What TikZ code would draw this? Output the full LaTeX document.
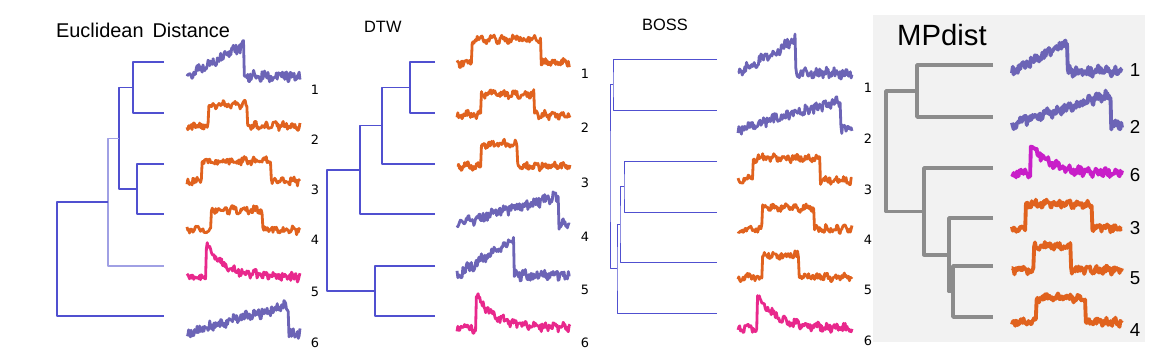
\documentclass[tikz,border=0pt]{standalone}
\usepackage{fontspec}
\setmainfont{Liberation Sans}
\newfontfamily\djv{DejaVu Sans}
\definecolor{tsblue}{RGB}{108,100,182}
\definecolor{tsorange}{RGB}{224,98,30}
\definecolor{tspink}{RGB}{232,40,140}
\definecolor{tsmag}{RGB}{200,30,200}
\definecolor{dgblue}{RGB}{80,80,208}
\definecolor{dglight}{RGB}{160,160,228}
\definecolor{dggrey}{RGB}{140,140,140}
\definecolor{mpback}{RGB}{242,242,242}
% noisy series: [noise], colour, left x, width, baseline, shape in \x
\newcommand{\tsig}[6][3.6]{\draw[series,#2] plot[domain=0:1,samples=135] ({#3+#4*\x},{#5-(#6)+#1*rand+1.6*sin(2900*\x+\x*\x*900)});}

\begin{document}
\begin{tikzpicture}[x=0.03cm, y=-0.03cm, line join=round,
    dendro/.style={dgblue, line width=0.9pt},
    series/.style={line width=2.4pt},
    lab/.style={font=\djv\fontsize{11}{13}\selectfont},
    biglab/.style={font=\fontsize{16}{18}\selectfont},
    title/.style={anchor=base west}]
    \useasboundingbox (0,0) rectangle (1173,363);
    \pgfmathsetseed{11}
    \fill[mpback] (873,15) rectangle (1145,342);
    
    % Euclidean Distance
    \node[title, font=\fontsize{17}{20}\selectfont] (te) at (52,37) {Euclidean\hspace{0.45em}Distance};
    \foreach \i/\y in {1/62,2/113,3/164,4/214,5/266,6/316}
    {
        \coordinate (e\i) at (164,\y);
    }
    \coordinate (e12) at (133,87.5);
    \coordinate (e34) at (137,189);
    \coordinate (e1234) at (119,138.25);
    \coordinate (e5m) at (108,202);
    \coordinate (eroot) at (57,259);
    \draw[dendro] (e1) -| (e12) |- (e2);
    \draw[dendro] (e3) -| (e34) |- (e4);
    \draw[dendro] (e12) -| (e1234) |- (e34);
    \draw[dendro, dglight] (e1234) -| (e5m) |- (e5);
    \draw[dendro] (e5m) -| (eroot) |- (e6);
    \foreach \i/\y in {1/90,2/140,3/190,4/240,5/292,6/343}
    {
        \node[lab] (el\i) at (315,\y) {\i};
    }
    \tsig[4.8]{tsblue}{187}{113}{76}{30*(\x<0.5)*\x/0.5}
    \tsig[3.3]{tsorange}{187}{113}{126}{21*(\x>0.19)*(\x<0.53)}
    \tsig[3.3]{tsorange}{187}{113}{181}{20*(\x>0.13)*(\x<0.74)}
    \tsig[3.3]{tsorange}{187}{113}{230}{20*(\x>0.21)*(\x<0.67)}
    \tsig[3.8]{tspink}{187}{113}{277}{33*(\x>0.17)*exp(-6*(\x-0.17))}
    \tsig[4.8]{tsblue}{187}{113}{333}{28*(\x<0.9)*\x/0.9}
    
    % DTW
    \node[title, font=\fontsize{14}{16}\selectfont] (td) at (360,32) {DTW};
    \foreach \i/\y in {1/62,2/113,3/164,4/214,5/266,6/316}
    {
        \coordinate (d\i) at (435,\y);
    }
    \coordinate (d12) at (410,87.5);
    \coordinate (d123) at (382,125.75);
    \coordinate (d1234) at (360,170);
    \coordinate (d56) at (375,291);
    \coordinate (droot) at (327,230.5);
    \draw[dendro] (d1) -| (d12) |- (d2);
    \draw[dendro] (d12) -| (d123) |- (d3);
    \draw[dendro] (d123) -| (d1234) |- (d4);
    \draw[dendro] (d5) -| (d56) |- (d6);
    \draw[dendro] (d1234) -| (droot) |- (d56);
    \foreach \i/\y in {1/74,2/128,3/183,4/237,5/290,6/343}
    {
        \node[lab] (dl\i) at (585,\y) {\i};
    }
    \tsig[3.3]{tsorange}{457}{113}{63}{24*(\x>0.13)*(\x<0.74)}
    \tsig[3.3]{tsorange}{457}{113}{115}{21*(\x>0.21)*(\x<0.68)}
    \tsig[3.3]{tsorange}{457}{113}{166}{22*(\x>0.21)*(\x<0.53)}
    \tsig[4.8]{tsblue}{457}{113}{224}{28*(\x<0.9)*\x/0.9}
    \tsig[4.8]{tsblue}{457}{113}{275}{36*(\x<0.5)*\x/0.5}
    \tsig[3.8]{tspink}{457}{113}{328}{33*(\x>0.17)*exp(-6*(\x-0.17))}
    
    % BOSS
    \node[title, font=\fontsize{14}{16}\selectfont] (tb) at (638,31) {BOSS};
    \foreach \i/\y in {1/59,2/110,3/161,4/212,5/262,6/313}
    {
        \coordinate (b\i) at (717,\y);
    }
    \coordinate (b12) at (613,84.5);
    \coordinate (b34) at (624,186.5);
    \coordinate (b345) at (620,224.25);
    \coordinate (b3456) at (617,268.6);
    \coordinate (broot) at (610,176.5);
    \draw[dendro, line width=0.8pt] (b1) -| (b12) |- (b2);
    \draw[dendro, line width=0.8pt] (b3) -| (b34) |- (b4);
    \draw[dendro, line width=0.8pt] (b34) -| (b345) |- (b5);
    \draw[dendro, line width=0.8pt] (b345) -| (b3456) |- (b6);
    \draw[dendro, line width=0.8pt] (b12) -| (broot) |- (b3456);
    \foreach \i/\y in {1/88,2/139,3/190,4/240,5/290,6/341}
    {
        \node[lab] (bl\i) at (868,\y) {\i};
    }
    \tsig[4.8]{tsblue}{738}{114}{73}{33*(\x<0.5)*\x/0.5}
    \tsig[4.8]{tsblue}{738}{114}{129}{28*(\x<0.9)*\x/0.9}
    \tsig[3.3]{tsorange}{738}{114}{180}{22*(\x>0.13)*(\x<0.72)}
    \tsig[3.3]{tsorange}{738}{114}{229}{21*(\x>0.21)*(\x<0.67)}
    \tsig[3.3]{tsorange}{738}{114}{277}{22*(\x>0.21)*(\x<0.53)}
    \tsig[3.8]{tspink}{738}{114}{328}{33*(\x>0.17)*exp(-6*(\x-0.17))}
    
    % MPdist
    \node[title, font=\fontsize{25}{28}\selectfont] (tm) at (893,45) {MPdist};
    \foreach \i/\y in {1/65,2/117,3/168,4/218,5/266,6/317}
    {
        \coordinate (m\i) at (993,\y);
    }
    \coordinate (m12) at (917,91);
    \coordinate (m56) at (953,291.5);
    \coordinate (m456) at (949,254.75);
    \coordinate (m3456) at (924,211.4);
    \coordinate (mroot) at (886,151);
    \draw[dggrey, line width=3.2pt] (m1) -| (m12) |- (m2);
    \draw[dggrey, line width=3.2pt] (m5) -| (m56) |- (m6);
    \draw[dggrey, line width=3.2pt] (m4) -| (m456) |- (m56);
    \draw[dggrey, line width=3.2pt] (m3) -| (m3456) |- (m456);
    \draw[dggrey, line width=3.2pt] (m12) -| (mroot) |- (m3456);
    \foreach \i/\n/\y in {1/1/70,2/2/127,3/6/175,4/3/228,5/5/278,6/4/330}
    {
        \node[biglab] (ml\i) at (1135,\y) {\n};
    }
    \begin{scope}[series/.append style={line width=3.3pt}]
    \tsig[4.5]{tsblue}{1012}{110}{71}{28*(\x<0.5)*\x/0.5}
    \tsig[4.5]{tsblue}{1012}{110}{124}{30*(\x<0.9)*\x/0.9}
    \tsig[3.8]{tsmag}{1012}{110}{173}{30*(\x>0.17)*exp(-6*(\x-0.17))}
    \tsig[3.3]{tsorange}{1012}{110}{228}{24*(\x>0.12)*(\x<0.73)}
    \tsig[3.3]{tsorange}{1012}{110}{270}{24*(\x>0.2)*(\x<0.53)}
    \tsig[3.3]{tsorange}{1012}{110}{322}{24*(\x>0.22)*(\x<0.67)}
    \end{scope}
    
\end{tikzpicture}
\end{document}
